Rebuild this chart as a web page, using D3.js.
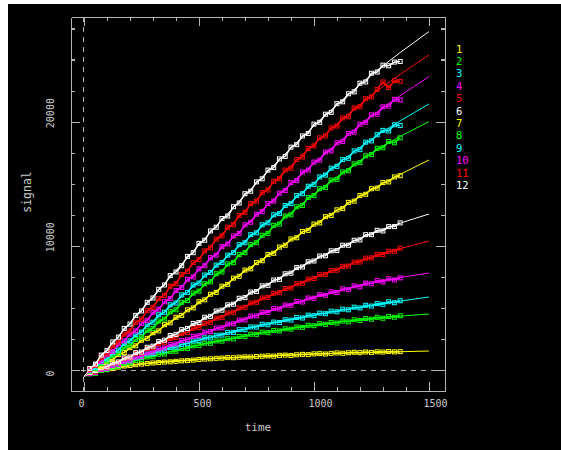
<!DOCTYPE html>
<html><head><meta charset="utf-8">
<script src="https://cdn.jsdelivr.net/npm/d3@7"></script>
<style>body{margin:0;background:#fff}svg{display:block}</style>
</head><body><svg id="c" width="561" height="450"></svg>
<script>
const timeGrid = [25,50,75,100,125,150,175,200,225,250,275,300,325,350,375,400,425,450,475,500,525,550,575,600,625,650,675,700,725,750,775,800,825,850,875,900,925,950,975,1000,1025,1050,1075,1100,1125,1150,1175,1200,1225,1250,1275,1300,1325,1350,1375];
const fitTimes = [0,250,500,750,1000,1250,1500];
const seriesNames = ["1","2","3","4","5","6","7","8","9","10","11","12"];
const seriesColors = ["#ffff00","#00ff00","#00ffff","#ff00ff","#ff0000","#ffffff","#ffff00","#00ff00","#00ffff","#ff00ff","#ff0000","#ffffff"];

const fit1 = [-500,500,862,1080,1290,1415,1530];
const fit2 = [-500,882,2013,2918,3620,4143,4510];
const fit3 = [-500,1092,2416,3515,4430,5204,5880];
const fit4 = [-500,1147,2819,4419,5850,7013,7810];
const fit5 = [-500,1440,3487,5523,7430,9092,10390];
const fit6 = [-500,1507,3890,6418,8860,10984,12560];
const fit7 = [-500,2309,5396,8580,11680,14517,16910];
const fit8 = [-500,2712,6443,10365,14150,17471,20000];
const fit9 = [-500,3137,7111,11175,15080,18578,21420];
const fit10 = [-500,3667,8053,12450,16650,20443,23620];
const fit11 = [-500,4204,9020,13746,18180,22122,25370];
const fit12 = [-500,4840,10070,15040,19650,23760,27250];

const data1 = [-250,-60,20,60,150,230,320,360,430,480,520,570,600,640,660,700,740,760,800,850,880,900,940,960,1000,990,1030,1060,1050,1090,1110,1140,1120,1180,1200,1170,1230,1260,1240,1300,1320,1290,1340,1380,1350,1390,1430,1400,1450,1420,1470,1450,1490,1460,1480];
const data2 = [-300,-260,-40,20,230,290,510,570,790,840,1050,1070,1270,1290,1500,1520,1720,1740,1950,1970,2160,2150,2340,2330,2520,2510,2700,2690,2880,2870,3050,3010,3180,3150,3320,3290,3460,3430,3600,3570,3730,3680,3830,3780,3940,3880,4050,3990,4150,4090,4240,4170,4310,4250,4370];
const data3 = [-290,-220,30,100,340,420,660,740,980,1050,1280,1310,1540,1580,1810,1840,2070,2110,2340,2370,2590,2590,2800,2810,3030,3030,3250,3250,3470,3460,3680,3650,3860,3830,4050,4020,4230,4190,4420,4380,4580,4540,4740,4690,4900,4850,5060,5000,5210,5150,5350,5290,5500,5420,5580];
const data4 = [-280,-200,40,130,370,450,700,780,1040,1100,1380,1440,1700,1770,2050,2100,2380,2430,2720,2760,3050,3090,3380,3400,3700,3720,4020,4040,4340,4360,4650,4640,4950,4920,5230,5210,5520,5480,5800,5780,6070,6020,6300,6240,6540,6470,6780,6700,7000,6940,7200,7100,7350,7250,7420];
const data5 = [-220,-150,150,230,540,620,930,1000,1320,1380,1720,1800,2130,2200,2540,2620,2950,3020,3360,3430,3770,3840,4180,4240,4590,4650,4990,5050,5400,5460,5800,5850,6180,6230,6560,6600,6950,6980,7320,7370,7680,7700,8020,8040,8350,8370,8680,8700,9010,9030,9300,9300,9560,9560,9820];
const data6 = [-200,-40,180,260,580,650,980,1050,1400,1450,1830,1920,2300,2400,2780,2870,3250,3350,3750,3820,4250,4320,4750,4820,5250,5300,5780,5830,6280,6320,6780,6820,7250,7300,7750,7800,8250,8300,8720,8780,9180,9200,9600,9620,10050,10050,10450,10480,10900,10900,11250,11200,11550,11550,11850];
const data7 = [-150,120,300,700,850,1250,1400,1800,1950,2400,2550,3000,3150,3650,3800,4250,4400,4850,5000,5500,5650,6100,6250,6750,6900,7400,7550,8050,8150,8650,8800,9300,9400,9900,10050,10550,10650,11150,11250,11750,11850,12350,12450,12900,13000,13500,13600,14050,14150,14600,14650,15100,15150,15550,15650];
const data8 = [-100,100,520,720,1200,1350,1850,2000,2450,2650,3200,3350,3950,4100,4700,4850,5450,5600,6200,6350,6950,7100,7750,7900,8550,8650,9300,9450,10100,10250,10850,11000,11650,11750,12400,12500,13150,13250,13900,14050,14600,14700,15300,15350,15950,16050,16600,16700,17250,17350,17850,17900,18400,18300,18700];
const data9 = [-60,180,650,900,1400,1600,2150,2350,2850,3050,3650,3850,4450,4650,5250,5400,6050,6250,6850,7000,7650,7850,8450,8650,9250,9450,10100,10250,10900,11050,11700,11850,12500,12600,13250,13400,14050,14200,14800,14950,15550,15700,16250,16400,16950,17050,17650,17750,18350,18450,18950,19300,19250,19750,19700];
const data10 = [-20,400,700,1250,1500,2100,2350,2900,3150,3750,4000,4650,4900,5500,5750,6400,6650,7300,7500,8150,8400,9050,9250,9950,10150,10800,11000,11700,11900,12550,12750,13400,13600,14250,14450,15100,15250,15950,16100,16750,16900,17550,17650,18300,18400,19050,19150,19800,19950,20550,20600,21200,21250,21800,21750];
const data11 = [60,380,1000,1300,1950,2250,2900,3150,3850,4100,4800,5050,5750,6000,6750,6950,7700,7950,8650,8900,9600,9850,10550,10800,11500,11700,12450,12700,13400,13600,14300,14500,15200,15400,16100,16250,16950,17150,17850,18050,18700,18850,19500,19650,20300,20400,21100,21200,21850,22000,22600,23200,22750,23300,23250];
const data12 = [120,480,1200,1580,2260,2650,3350,3700,4400,4760,5450,5800,6500,6850,7600,7900,8400,9150,9450,10200,10450,11200,11500,12200,12400,13150,13450,14200,14400,15150,15400,16100,16300,17000,17200,17950,18150,18850,19050,19800,19950,20600,20750,21450,21600,22250,22400,23100,23200,23900,24000,24550,24500,24800,24850];

const xMajorTicks = [0,500,1000,1500];
const xMinorTicks = [100,200,300,400,600,700,800,900,1100,1200,1300,1400];
const yMajorTicks = [0,10000,20000];
const yMinorTicks = [2500,5000,7500,12500,15000,17500,22500,25000,27500];
const xTitle = "time", yTitle = "signal";

const fits = [fit1,fit2,fit3,fit4,fit5,fit6,fit7,fit8,fit9,fit10,fit11,fit12];
const datas = [data1,data2,data3,data4,data5,data6,data7,data8,data9,data10,data11,data12];

const svg = d3.select("#c");
svg.append("rect").attr("x",8).attr("y",4).attr("width",553).attr("height",446).attr("fill","#000");

const L = 71, R = 445, T = 17, B = 391;
const x = d3.scaleLinear().domain([-56.5,1570]).range([L,R]);
const y = d3.scaleLinear().domain([-1690,28430]).range([B,T]);
const axisColor = "#b4b4b4", textColor = "#c8c8c8";
const font = "'DejaVu Sans Mono', monospace";

// dashed zero lines
svg.append("line").attr("x1",x(0)).attr("x2",x(0)).attr("y1",T).attr("y2",B)
  .attr("stroke",axisColor).attr("stroke-dasharray","5,5").attr("shape-rendering","crispEdges");
svg.append("line").attr("x1",L).attr("x2",R).attr("y1",y(0)).attr("y2",y(0))
  .attr("stroke",axisColor).attr("stroke-dasharray","5,5").attr("shape-rendering","crispEdges");

function styleAxis(g){
  g.selectAll("path,line").attr("stroke",axisColor).attr("stroke-width",1.2).attr("shape-rendering","crispEdges");
  g.selectAll("text").remove();
}
function addAxis(gen, tr, vals, size){
  svg.append("g").attr("transform",tr).call(gen.tickValues(vals).tickSizeInner(-size).tickSizeOuter(0).tickFormat("")).call(styleAxis);
}
addAxis(d3.axisBottom(x),`translate(0,${B})`,xMajorTicks,9);
addAxis(d3.axisBottom(x),`translate(0,${B})`,xMinorTicks,4);
addAxis(d3.axisTop(x),`translate(0,${T})`,xMajorTicks,9);
addAxis(d3.axisTop(x),`translate(0,${T})`,xMinorTicks,4);
addAxis(d3.axisLeft(y),`translate(${L},0)`,yMajorTicks,9);
addAxis(d3.axisLeft(y),`translate(${L},0)`,yMinorTicks,4);
addAxis(d3.axisRight(y),`translate(${R},0)`,yMajorTicks,9);
addAxis(d3.axisRight(y),`translate(${R},0)`,yMinorTicks,4);

// tick labels
svg.append("g").selectAll("text").data(xMajorTicks).join("text")
  .attr("x",d=>x(d)-5.5).attr("y",407).attr("fill",textColor)
  .attr("font-family",font).attr("font-size",10).text(d=>d);
svg.append("g").selectAll("text").data(yMajorTicks).join("text")
  .attr("transform",d=>`translate(53.5,${y(d)+6.5}) rotate(-90)`).attr("fill",textColor)
  .attr("font-family",font).attr("font-size",10).text(d=>d);
svg.append("text").attr("x",(L+R)/2).attr("y",431).attr("text-anchor","middle")
  .attr("fill",textColor).attr("font-family",font).attr("font-size",11).text(xTitle);
svg.append("text").attr("transform",`translate(31,192) rotate(-90)`).attr("text-anchor","middle")
  .attr("fill",textColor).attr("font-family",font).attr("font-size",11.5).text(yTitle);

// series
const fitLine = d3.line().x((d,i)=>x(fitTimes[i])).y(d=>y(d)).curve(d3.curveMonotoneX);
const dataLine = d3.line().x((d,i)=>x(timeGrid[i])).y(d=>y(d));
const plot = svg.append("g");
seriesNames.forEach((name,s)=>{
  const c = seriesColors[s];
  plot.append("path").attr("d",fitLine(fits[s])).attr("fill","none").attr("stroke",c).attr("stroke-width",1);
  plot.append("path").attr("d",dataLine(datas[s])).attr("fill","none").attr("stroke",c).attr("stroke-width",1.5);
  plot.append("g").selectAll("rect").data(datas[s]).join("rect")
    .attr("x",(d,i)=>x(timeGrid[i])-2).attr("y",d=>y(d)-2).attr("width",4).attr("height",4)
    .attr("fill","none").attr("stroke",c).attr("stroke-width",1);
});

// legend
svg.append("g").selectAll("text").data(seriesNames).join("text")
  .attr("x",456).attr("y",(d,i)=>52.5+i*12.4).attr("fill",(d,i)=>seriesColors[i])
  .attr("font-family",font).attr("font-size",10.5).text(d=>d);
</script></body></html>
